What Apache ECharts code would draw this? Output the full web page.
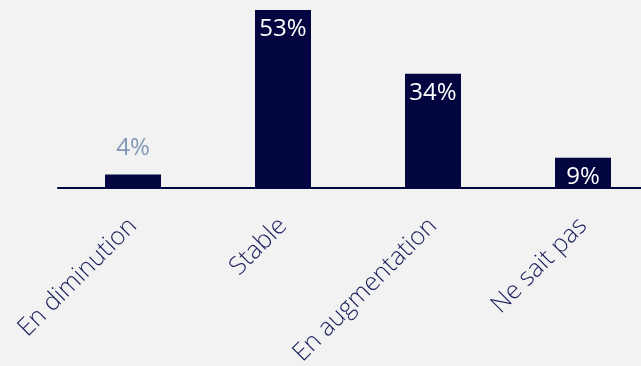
<!DOCTYPE html>
<html>
<head>
<meta charset="utf-8">
<script src="https://cdn.jsdelivr.net/npm/echarts@6/dist/echarts.min.js"></script>
<style>
  html, body { margin: 0; padding: 0; background: #f2f2f2; }
  #chart { width: 641px; height: 366px; }
</style>
</head>
<body>
<div id="chart"></div>
<script>
const categories = ['En diminution', 'Stable', 'En augmentation', 'Ne sait pas']
const values = [4, 53, 34, 9]

const navy = '#020540'
const chart = echarts.init(document.getElementById('chart'))

chart.setOption({
  backgroundColor: '#f2f2f2',
  animation: false,
  grid: { left: 58, top: 10, width: 600, height: 178, outerBoundsMode: 'none', containLabel: false },
  xAxis: {
    type: 'category',
    data: categories,
    axisTick: { show: false },
    axisLine: { lineStyle: { color: navy, width: 2 } },
    axisLabel: {
      rotate: 45,
      margin: 34,
      color: '#1a1f5c',
      fontFamily: 'Open Sans',
      fontSize: 25,
      fontWeight: 300,
      interval: 0
    }
  },
  yAxis: { type: 'value', min: 0, max: 53, show: false, splitLine: { show: false } },
  series: [{
    type: 'bar',
    data: values.map((v, i) => ({
      value: v,
      label: i === 0
        ? { position: 'top', distance: 14, color: '#8197b3' }
        : { position: 'insideTop', distance: 7, color: '#ffffff' }
    })),
    barWidth: 56,
    itemStyle: { color: navy },
    label: {
      show: true,
      formatter: '{c}%',
      fontFamily: 'Open Sans',
      fontSize: 24
    }
  }]
})
</script>
</body>
</html>
